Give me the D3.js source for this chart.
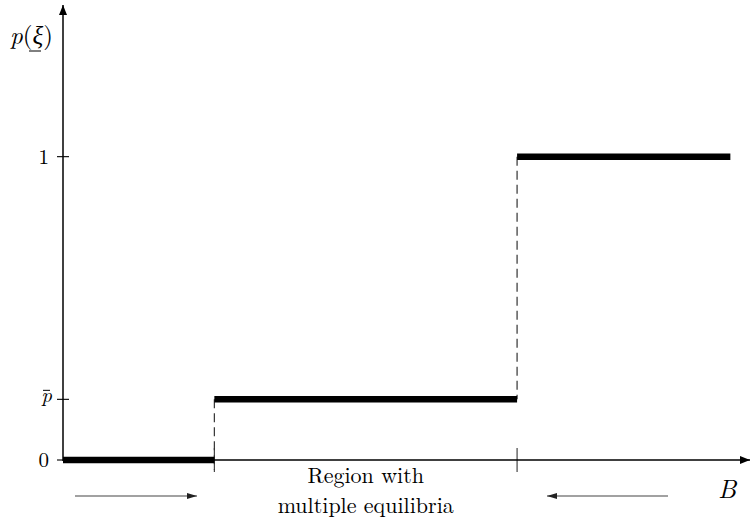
<!DOCTYPE html>
<html>
<head>
<meta charset="utf-8">
<script src="https://cdn.jsdelivr.net/npm/d3@7"></script>
<style>
  html, body { margin: 0; padding: 0; background: #fff; }
</style>
</head>
<body>
<svg id="chart" width="751" height="523"></svg>
<script>
// Step function p(ξ) against B
const breakpoints = [22, 66];          // B thresholds (normalised axis units)
const stepStarts = [0, 22, 66];
const stepEnds = [22, 66, 97];
const stepValues = [0, 0.2, 1];        // 0, p̄, 1
const yTickValues = [0, 0.2, 1];
const yTickLabels = ["0", "p", "1"];   // middle label carries an overbar
const regionLabel = ["Region with", "multiple equilibria"];

const SERIF = "'Latin Modern Roman', 'Liberation Serif', serif";

const svg = d3.select("#chart").attr("font-family", SERIF);
const x = d3.scaleLinear().domain([0, 100]).range([63, 751]);
const y = d3.scaleLinear().domain([0, 1.5]).range([460, 5]);

const defs = svg.append("defs");
defs.append("marker").attr("id", "axisHead")
  .attr("viewBox", "0 0 10 8").attr("refX", 10).attr("refY", 4)
  .attr("markerWidth", 10).attr("markerHeight", 8)
  .attr("markerUnits", "userSpaceOnUse").attr("orient", "auto")
  .append("path").attr("d", "M0,0 L10,4 L0,8 Z").attr("fill", "#000");
defs.append("marker").attr("id", "flowHead")
  .attr("viewBox", "0 0 10 6").attr("refX", 10).attr("refY", 3)
  .attr("markerWidth", 10).attr("markerHeight", 6)
  .attr("markerUnits", "userSpaceOnUse").attr("orient", "auto")
  .append("path").attr("d", "M0,0 L10,3 L0,6 Z").attr("fill", "#222");

// dashed connectors between steps
stepValues.slice(1).forEach((v, i) => {
  const bx = x(breakpoints[i]);
  const yTop = y(v);
  const yBot = i === 0 ? y(0) + 10 : y(stepValues[i]);
  svg.append("line")
    .attr("x1", bx).attr("x2", bx).attr("y1", yTop).attr("y2", yBot)
    .attr("stroke", "#333").attr("stroke-width", 1.2)
    .attr("stroke-dasharray", "9,5");
});

// x-axis ticks at thresholds
breakpoints.forEach(b => {
  svg.append("line")
    .attr("x1", x(b)).attr("x2", x(b)).attr("y1", y(0) - 12).attr("y2", y(0) + 12)
    .attr("stroke", "#333").attr("stroke-width", 1.1);
});

// axes
svg.append("line").attr("x1", x(0)).attr("x2", x(100) - 1)
  .attr("y1", y(0)).attr("y2", y(0))
  .attr("stroke", "#000").attr("stroke-width", 1.5).attr("marker-end", "url(#axisHead)");
svg.append("line").attr("x1", x(0)).attr("x2", x(0))
  .attr("y1", y(0) + 1).attr("y2", y(1.5))
  .attr("stroke", "#000").attr("stroke-width", 1.5).attr("marker-end", "url(#axisHead)");

// y ticks and labels
yTickValues.forEach((v, i) => {
  svg.append("line").attr("x1", x(0) - 6).attr("x2", x(0) + 6)
    .attr("y1", y(v)).attr("y2", y(v)).attr("stroke", "#000").attr("stroke-width", 1.1);
  svg.append("text").attr("x", x(0) - (i === 1 ? 11 : 14)).attr("y", y(v) + (i === 1 ? 3 : 7))
    .attr("text-anchor", "end").attr("font-size", 21)
    .attr("font-family", SERIF)
    .attr("font-style", i === 1 ? "italic" : "normal")
    .text(yTickLabels[i]);
});
// overbar on the p̄ label
svg.append("line").attr("x1", x(0) - 20).attr("x2", x(0) - 13)
  .attr("y1", y(0.2) - 9).attr("y2", y(0.2) - 9)
  .attr("stroke", "#000").attr("stroke-width", 1);

// thick step segments
svg.selectAll(".step").data(stepValues).join("line")
  .attr("class", "step")
  .attr("x1", (d, i) => x(stepStarts[i]))
  .attr("x2", (d, i) => x(stepEnds[i]))
  .attr("y1", d => y(d)).attr("y2", d => y(d))
  .attr("stroke", "#000").attr("stroke-width", 6.5);

// axis titles
const yTitle = svg.append("text").attr("x", 10).attr("y", 44)
  .attr("font-size", 25).attr("font-family", SERIF);
yTitle.append("tspan").attr("font-style", "italic").text("p");
yTitle.append("tspan").text("(");
yTitle.append("tspan").attr("font-style", "italic").text("ξ");
yTitle.append("tspan").text(")");
svg.append("line").attr("x1", 29).attr("x2", 41).attr("y1", 51).attr("y2", 51)
  .attr("stroke", "#000").attr("stroke-width", 1);

svg.append("text").attr("x", 718).attr("y", 498).attr("font-size", 26)
  .attr("font-family", SERIF)
  .attr("font-style", "italic").text("B");

// region label
const midX = (x(breakpoints[0]) + x(breakpoints[1])) / 2;
regionLabel.forEach((t, i) => {
  svg.append("text").attr("x", midX).attr("y", 483 + i * 30)
    .attr("text-anchor", "middle").attr("font-size", 22)
    .attr("font-family", SERIF).text(t);
});

// direction arrows
svg.append("line").attr("x1", 75).attr("x2", 197).attr("y1", 496).attr("y2", 496)
  .attr("stroke", "#444").attr("stroke-width", 1.2).attr("marker-end", "url(#flowHead)");
svg.append("line").attr("x1", 668).attr("x2", 547).attr("y1", 496).attr("y2", 496)
  .attr("stroke", "#444").attr("stroke-width", 1.2).attr("marker-end", "url(#flowHead)");
</script>
</body>
</html>
